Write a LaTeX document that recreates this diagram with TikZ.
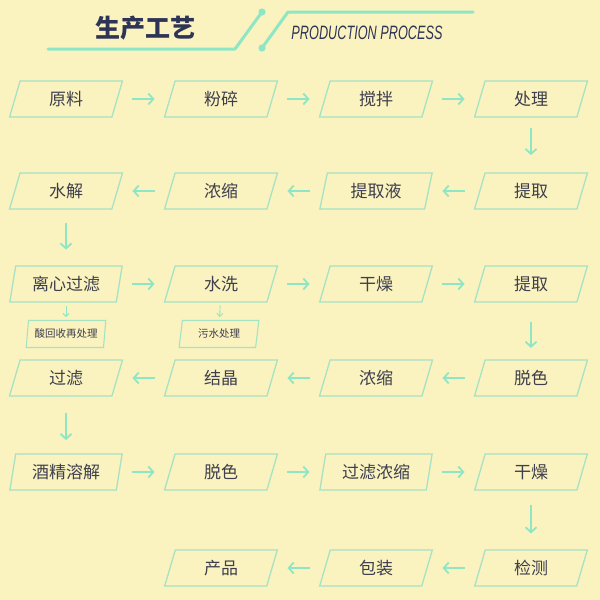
\documentclass[tikz,border=0pt]{standalone}
\usepackage{fontspec}
\usepackage{graphicx}
\setmainfont{Noto Sans CJK SC}
\newfontfamily\latinit{Liberation Sans}
\usetikzlibrary{shapes.geometric,arrows.meta,calc}
\definecolor{bg}{HTML}{FAF3BF}
\definecolor{mint}{HTML}{8EE6C4}
\definecolor{boxline}{HTML}{A6E2C4}
\definecolor{txt}{HTML}{3E3E4E}
\definecolor{navy}{HTML}{2E3456}
\begin{document}
\begin{tikzpicture}[x=1pt,y=-1pt,
  stepbox/.style={shape=trapezium, trapezium left angle=76, trapezium right angle=104,
    trapezium stretches=true, minimum width=113pt, minimum height=36pt, inner sep=0pt,
    draw=boxline, line width=1.3pt, text=txt, font=\fontsize{17}{17}\selectfont},
  smallbox/.style={shape=trapezium, trapezium left angle=79, trapezium right angle=101,
    trapezium stretches=true, minimum width=80pt, minimum height=27pt, inner sep=0pt,
    draw=boxline, line width=1.1pt, text=txt, font=\fontsize{10.5}{10.5}\selectfont},
  arr/.style={draw=mint, line width=1.8pt, -{Straight Barb[length=5pt,width=11pt]}},
  thinarr/.style={draw=mint, line width=0.9pt, -{Straight Barb[length=3pt,width=6pt]}},
  deco/.style={draw=mint, line width=3pt, line cap=round, line join=round}
]
\fill[bg] (0,0) rectangle (600,600);

% header
\draw[deco] (48,49) -- (235,49) -- (262,12);
\fill[mint] (262,12) circle (3.6pt);
\draw[deco] (262,48) -- (288,12) -- (473,12);
\fill[mint] (262,48) circle (3.6pt);
\node[text=navy, font=\fontsize{25}{25}\selectfont\bfseries] (title) at (145,28) {生产工艺};
\node[text=navy, inner sep=0pt] (subtitle) at (367,33) {\resizebox{151pt}{13.5pt}{\latinit\itshape PRODUCTION PROCESS}};

% row 1
\node[stepbox] (a1) at (66,99) {原料};
\node[stepbox] (a2) at (221,99) {粉碎};
\node[stepbox] (a3) at (376,99) {搅拌};
\node[stepbox] (a4) at (531,99) {处理};
% row 2
\node[stepbox] (b1) at (66,191) {水解};
\node[stepbox] (b2) at (221,191) {浓缩};
\node[stepbox] (b3) at (376,191) {提取液};
\node[stepbox] (b4) at (531,191) {提取};
% row 3
\node[stepbox] (c1) at (66,284) {离心过滤};
\node[stepbox] (c2) at (221,284) {水洗};
\node[stepbox] (c3) at (376,284) {干燥};
\node[stepbox] (c4) at (531,284) {提取};
% small boxes
\node[smallbox] (s1) at (66,334) {酸回收再处理};
\node[smallbox] (s2) at (219,334) {污水处理};
% row 4
\node[stepbox] (d1) at (66,378) {过滤};
\node[stepbox] (d2) at (221,378) {结晶};
\node[stepbox] (d3) at (376,378) {浓缩};
\node[stepbox] (d4) at (531,378) {脱色};
% row 5
\node[stepbox] (e1) at (66,472) {酒精溶解};
\node[stepbox] (e2) at (221,472) {脱色};
\node[stepbox] (e3) at (376,472) {过滤浓缩};
\node[stepbox] (e4) at (531,472) {干燥};
% row 6
\node[stepbox] (f2) at (221,568) {产品};
\node[stepbox] (f3) at (376,568) {包装};
\node[stepbox] (f4) at (531,568) {检测};

% horizontal arrows
\foreach \p/\q in {a1/a2,a2/a3,a3/a4,b4/b3,b3/b2,b2/b1,c1/c2,c2/c3,c3/c4,
                   d4/d3,d3/d2,d2/d1,e1/e2,e2/e3,e3/e4,f4/f3,f3/f2}
  \draw[arr] ($(\p)!0.429!(\q)$) -- ($(\p)!0.571!(\q)$);

% vertical arrows
\draw[arr] ($(a4)!0.32!(b4)$) -- ($(a4)!0.61!(b4)$);
\draw[arr] ($(b1)!0.34!(c1)$) -- ($(b1)!0.63!(c1)$);
\draw[arr] ($(c4)!0.40!(d4)$) -- ($(c4)!0.68!(d4)$);
\draw[arr] ($(d1)!0.37!(e1)$) -- ($(d1)!0.66!(e1)$);
\draw[arr] ($(e4)!0.34!(f4)$) -- ($(e4)!0.64!(f4)$);

% small arrows
\draw[thinarr] ($(c1)!0.43!(s1)$) -- ($(c1)!0.66!(s1)$);
\draw[thinarr] ($(c2)!0.43!(s2)$) -- ($(c2)!0.66!(s2)$);
\end{tikzpicture}
\end{document}
